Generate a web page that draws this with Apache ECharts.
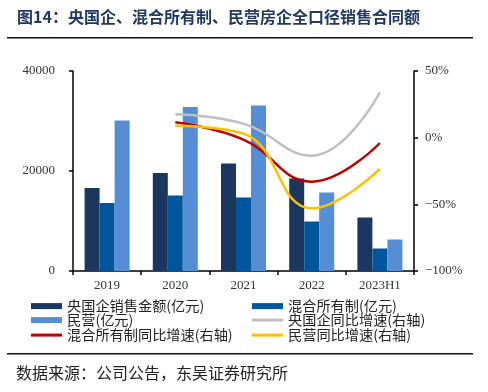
<!DOCTYPE html>
<html><head><meta charset="utf-8">
<script src="https://cdn.jsdelivr.net/npm/echarts@6/dist/echarts.min.js"></script>
<style>html,body{margin:0;padding:0;background:#fff}#c{width:488px;height:392px}</style>
</head><body><div id="c"></div>
<script>
const categories = ['2019', '2020', '2021', '2022', '2023H1'];
const soeSales = [16600, 19600, 21500, 18500, 10700];
const mixedSales = [13600, 15100, 14700, 9900, 4500];
const privateSales = [30100, 32800, 33100, 15700, 6300];
const soeYoY = ['-', 17.5, 10.5, -13.5, 34];
const mixedYoY = ['-', 11.5, -1.5, -33, -4];
const privateYoY = ['-', 9, 3, -53, -23.5];
const leftTicks = [0, 20000, 40000];
const rightTicks = [-100, -50, 0, 50];

const names = ['央国企销售金额(亿元)', '混合所有制(亿元)', '民营(亿元)', '央国企同比增速(右轴)', '混合所有制同比增速(右轴)', '民营同比增速(右轴)'];
const colors = ['#1B365F', '#00569D', '#558ED5', '#BFBFBF', '#C00000', '#FFC000'];
const cjk = '"Noto Sans CJK SC", sans-serif';
const serif = '"Liberation Serif", "Times New Roman", serif';

const chart = echarts.init(document.getElementById('c'));
const legendPos = [[31, 299], [252, 299], [31, 313], [252, 313], [31, 328], [252, 328]];
const legends = names.map((n, i) => ({
  data: [n], left: legendPos[i][0], top: legendPos[i][1],
  icon: 'rect', itemWidth: 31, itemHeight: i < 3 ? 6 : 3, itemGap: 4,
  textStyle: { fontFamily: cjk, fontSize: 14.2, color: '#222', padding: [0, 0, 0, 0] },
  padding: 0, selectedMode: false
}));

const barSeries = [soeSales, mixedSales, privateSales].map((d, i) => ({
  name: names[i], type: 'bar', data: d, barGap: '0%', barCategoryGap: '34%',
  itemStyle: { color: colors[i] }, yAxisIndex: 0
}));
const lineSeries = [soeYoY, mixedYoY, privateYoY].map((d, i) => ({
  name: names[i + 3], type: 'line', data: d, yAxisIndex: 1, smooth: 0.45,
  symbol: 'none', lineStyle: { color: colors[i + 3], width: 2.5 }, itemStyle: { color: colors[i + 3] }, z: 5
}));

chart.setOption({
  animation: false,
  color: colors,
  grid: { left: 73, right: 74, top: 71, bottom: 121 },
  legend: legends,
  graphic: [
    { type: 'text', left: 17, top: 9, style: { text: '图14：央国企、混合所有制、民营房企全口径销售合同额', font: 'bold 16px ' + cjk, fill: '#1F3864' } },
    { type: 'rect', shape: { x: 7, y: 37, width: 466, height: 1.6 }, style: { fill: '#111' } },
    { type: 'rect', shape: { x: 7, y: 353, width: 466, height: 1.6 }, style: { fill: '#111' } },
    { type: 'text', left: 16, top: 365, style: { text: '数据来源：公司公告，东吴证券研究所', font: '16px ' + cjk, fill: '#222' } }
  ],
  xAxis: {
    type: 'category', data: categories,
    axisLine: { lineStyle: { color: '#000', width: 1.5 } },
    axisTick: { show: true, lineStyle: { color: '#000', width: 1.5 }, length: 4 },
    axisLabel: { fontFamily: serif, fontSize: 13, color: '#333', margin: 8 }
  },
  yAxis: [
    {
      type: 'value', min: leftTicks[0], max: leftTicks[leftTicks.length - 1], interval: 20000,
      axisLine: { show: true, lineStyle: { color: '#000', width: 1.5 } },
      axisTick: { show: true, lineStyle: { color: '#000', width: 1.5 }, length: 4 },
      splitLine: { show: false },
      axisLabel: { fontFamily: serif, fontSize: 13, color: '#333', margin: 18, formatter: v => String(v) }
    },
    {
      type: 'value', min: rightTicks[0], max: rightTicks[rightTicks.length - 1], interval: 50,
      position: 'right',
      axisLine: { show: true, lineStyle: { color: '#000', width: 1.5 } },
      axisTick: { show: true, lineStyle: { color: '#000', width: 1.5 }, length: 4 },
      splitLine: { show: false },
      axisLabel: { fontFamily: serif, fontSize: 13, color: '#333', margin: 11, formatter: v => (v < 0 ? '−' + (-v) : v) + '%' }
    }
  ],
  series: barSeries.concat(lineSeries)
});
</script></body></html>
